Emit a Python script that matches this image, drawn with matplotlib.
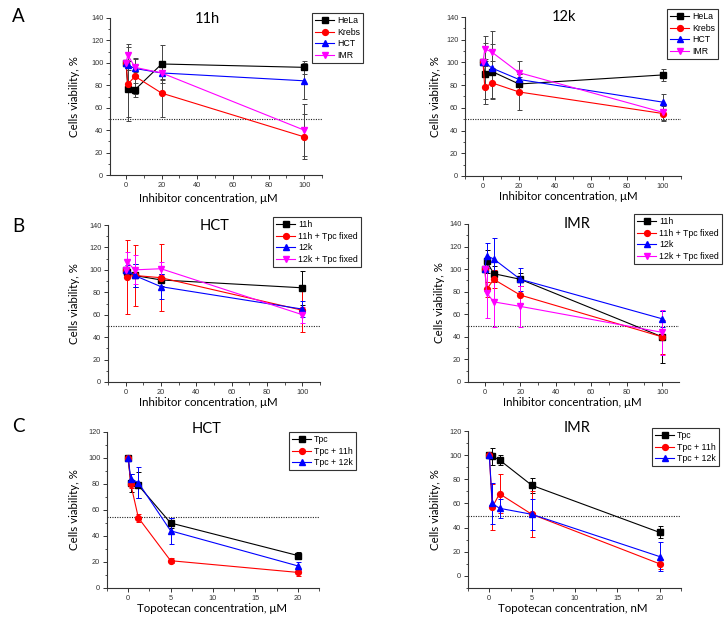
import matplotlib
matplotlib.use("Agg")
import matplotlib.pyplot as plt
from matplotlib.ticker import MultipleLocator

# ---- data ----
conc_inh = [0, 1, 5, 20, 100]
conc_tpc_hct = [0, 0.3, 1.2, 5, 20]
conc_tpc_imr = [0, 0.35, 1.2, 5, 20]

# A, 11h
a1_hela = [100, 77, 76, 99, 96]
a1_hela_err = [0, 25, 6, 17, 6]
a1_krebs = [100, 81, 88, 73, 34]
a1_krebs_err = [0, 33, 16, 21, 20]
a1_hct = [100, 98, 95, 91, 84]
a1_hct_err = [0, 4, 3, 5, 16]
a1_imr = [100, 107, 96, 91, 40]
a1_imr_err = [0, 10, 7, 6, 23]

# A, 12k
a2_hela = [100, 90, 92, 81, 89]
a2_hela_err = [0, 27, 24, 6, 5]
a2_krebs = [100, 78, 82, 74, 55]
a2_krebs_err = [0, 10, 13, 16, 7]
a2_hct = [100, 100, 95, 85, 65]
a2_hct_err = [0, 3, 6, 5, 7]
a2_imr = [100, 112, 109, 91, 56]
a2_imr_err = [0, 11, 19, 10, 7]

# B, HCT
b1_11h = [100, 98, 95, 91, 84]
b1_11h_err = [0, 3, 10, 5, 15]
b1_11h_tpc = [100, 94, 95, 93, 64]
b1_11h_tpc_err = [0, 33, 27, 30, 19]
b1_12k = [100, 100, 95, 85, 65]
b1_12k_err = [0, 4, 10, 11, 7]
b1_12k_tpc = [100, 107, 100, 101, 60]
b1_12k_tpc_err = [0, 9, 13, 6, 7]

# B, IMR
b2_11h = [100, 107, 96, 91, 40]
b2_11h_err = [0, 10, 7, 6, 23]
b2_11h_tpc = [100, 82, 91, 77, 40]
b2_11h_tpc_err = [0, 7, 8, 8, 15]
b2_12k = [100, 112, 109, 91, 56]
b2_12k_err = [0, 11, 19, 10, 7]
b2_12k_tpc = [100, 79, 71, 67, 44]
b2_12k_tpc_err = [0, 22, 22, 18, 20]

# C, HCT
c1_tpc = [100, 81, 79, 50, 25]
c1_tpc_err = [0, 7, 10, 4, 3]
c1_tpc_11h = [100, 80, 54, 21, 12]
c1_tpc_11h_err = [0, 3, 3, 2, 3]
c1_tpc_12k = [100, 84, 81, 44, 17]
c1_tpc_12k_err = [0, 4, 12, 10, 3]

# C, IMR
c2_tpc = [100, 99, 96, 75, 36]
c2_tpc_err = [0, 7, 4, 6, 5]
c2_tpc_11h = [100, 57, 68, 51, 10]
c2_tpc_11h_err = [0, 19, 16, 19, 4]
c2_tpc_12k = [100, 60, 56, 51, 16]
c2_tpc_12k_err = [0, 17, 8, 13, 12]

W, H = 728, 618
fig = plt.figure(figsize=(W / 100, H / 100), dpi=100)

LBL_FONT = ["Lato", "DejaVu Sans"]
TICK_FONT = ["Liberation Sans", "DejaVu Sans"]


def add_ax(left, right, top, bottom):
    ax = fig.add_axes([left / W, 1 - bottom / H, (right - left) / W, (bottom - top) / H])
    ax._px = (left, right, top, bottom)
    return ax


def style(ax, xlim, ylim, xmaj, xmin, xlabel, xlab_xy, ylab_x, hline=50):
    ax.set_xlim(*xlim)
    ax.set_ylim(*ylim)
    ax.spines["top"].set_visible(False)
    ax.spines["right"].set_visible(False)
    for s in ("left", "bottom"):
        ax.spines[s].set_linewidth(0.8)
        ax.spines[s].set_color("#333333")
    ax.xaxis.set_major_locator(MultipleLocator(xmaj))
    ax.xaxis.set_minor_locator(MultipleLocator(xmin))
    ax.yaxis.set_major_locator(MultipleLocator(20))
    ax.yaxis.set_minor_locator(MultipleLocator(10))
    ax.tick_params(which="major", direction="out", length=3, width=0.7, colors="#333333",
                   labelsize=5.3, pad=1.8)
    ax.tick_params(which="minor", direction="out", length=1.8, width=0.6, colors="#333333")
    for t in ax.get_xticklabels() + ax.get_yticklabels():
        t.set_family(TICK_FONT)
    ax.set_xlabel(xlabel, fontsize=8.3, family=LBL_FONT)
    ax.set_ylabel("Cells viability, %", fontsize=8.3, family=LBL_FONT)
    # place labels at the pixel centres measured on the reference
    left, right, top, bottom = ax._px
    ax.xaxis.set_label_coords((xlab_xy[0] - left) / (right - left),
                              (bottom - xlab_xy[1]) / (bottom - top))
    ax.xaxis.label.set_va("center")
    ax.yaxis.set_label_coords((ylab_x - left) / (right - left), 0.5)
    ax.yaxis.label.set_va("center")
    ax.axhline(hline, ls=(0, (1, 1.2)), lw=0.8, color="#222222", zorder=1)


def series(ax, x, y, err, color, marker, label, ecolor=None):
    ax.errorbar(x, y, yerr=err, fmt="none", ecolor=ecolor or color, elinewidth=0.7,
                capsize=1.8, capthick=0.7, zorder=2)
    ax.plot(x, y, color=color, marker=marker, markersize=4.2, lw=0.8, label=label, zorder=3)


def legend(ax, x0, y0):
    leg = ax.legend(loc="upper left", bbox_to_anchor=(x0 / W, 1 - y0 / H),
                    bbox_transform=fig.transFigure, fancybox=False, framealpha=1,
                    edgecolor="#333333", prop={"family": TICK_FONT, "size": 6.3},
                    handlelength=2.2, handletextpad=0.3, labelspacing=0.3,
                    borderpad=0.35, borderaxespad=0)
    leg.get_frame().set_linewidth(0.8)


inh_label = "Inhibitor concentration, μM"
gray = "#444444"

# ---- A left: 11h ----
ax = add_ax(110, 322, 18, 175)
series(ax, conc_inh, a1_hela, a1_hela_err, "black", "s", "HeLa", gray)
series(ax, conc_inh, a1_krebs, a1_krebs_err, "red", "o", "Krebs", gray)
series(ax, conc_inh, a1_hct, a1_hct_err, "blue", "^", "HCT", gray)
series(ax, conc_inh, a1_imr, a1_imr_err, "magenta", "v", "IMR", gray)
style(ax, (-9, 110), (0, 140), 20, 10, inh_label, (208, 198), 75)
legend(ax, 312, 13)

# ---- A right: 12k ----
ax = add_ax(465, 681, 17, 176)
series(ax, conc_inh, a2_hela, a2_hela_err, "black", "s", "HeLa", gray)
series(ax, conc_inh, a2_krebs, a2_krebs_err, "red", "o", "Krebs", gray)
series(ax, conc_inh, a2_hct, a2_hct_err, "blue", "^", "HCT", gray)
series(ax, conc_inh, a2_imr, a2_imr_err, "magenta", "v", "IMR", gray)
style(ax, (-10, 110), (0, 140), 20, 10, inh_label, (568, 197), 436)
legend(ax, 667, 9)

# ---- B left: HCT ----
ax = add_ax(108, 320, 225, 382)
series(ax, conc_inh, b1_11h, b1_11h_err, "black", "s", "11h")
series(ax, conc_inh, b1_11h_tpc, b1_11h_tpc_err, "red", "o", "11h + Tpc fixed")
series(ax, conc_inh, b1_12k, b1_12k_err, "blue", "^", "12k")
series(ax, conc_inh, b1_12k_tpc, b1_12k_tpc_err, "magenta", "v", "12k + Tpc fixed")
style(ax, (-10, 110), (0, 140), 20, 10, inh_label, (208, 403), 75)
legend(ax, 273, 217)

# ---- B right: IMR ----
ax = add_ax(468, 679, 224, 382)
series(ax, conc_inh, b2_11h, b2_11h_err, "black", "s", "11h")
series(ax, conc_inh, b2_11h_tpc, b2_11h_tpc_err, "red", "o", "11h + Tpc fixed")
series(ax, conc_inh, b2_12k, b2_12k_err, "blue", "^", "12k")
series(ax, conc_inh, b2_12k_tpc, b2_12k_tpc_err, "magenta", "v", "12k + Tpc fixed")
style(ax, (-9.5, 109.5), (0, 140), 20, 10, inh_label, (572, 403), 439)
legend(ax, 634, 214)

# ---- C left: HCT ----
ax = add_ax(107, 319, 432, 588)
series(ax, conc_tpc_hct, c1_tpc, c1_tpc_err, "black", "s", "Tpc")
series(ax, conc_tpc_hct, c1_tpc_11h, c1_tpc_11h_err, "red", "o", "Tpc + 11h")
series(ax, conc_tpc_hct, c1_tpc_12k, c1_tpc_12k_err, "blue", "^", "Tpc + 12k")
style(ax, (-2.5, 22.5), (0, 120), 5, 2.5, "Topotecan concentration, μM", (212, 608), 74,
      hline=54.5)
legend(ax, 289, 432)

# ---- C right: IMR ----
ax = add_ax(468, 681, 431, 588)
series(ax, conc_tpc_imr, c2_tpc, c2_tpc_err, "black", "s", "Tpc")
series(ax, conc_tpc_imr, c2_tpc_11h, c2_tpc_11h_err, "red", "o", "Tpc + 11h")
series(ax, conc_tpc_imr, c2_tpc_12k, c2_tpc_12k_err, "blue", "^", "Tpc + 12k")
style(ax, (-2.5, 22.5), (-10, 120), 5, 2.5, "Topotecan concentration, nM", (573, 609), 435)
legend(ax, 652, 428)

# titles and panel letters
titles = [("11h", 207, 19), ("12k", 564, 17), ("HCT", 215, 226),
          ("IMR", 577, 224), ("HCT", 207, 429), ("IMR", 577, 428)]
for txt, x, y in titles:
    fig.text(x / W, 1 - y / H, txt, ha="center", va="center", fontsize=10.5, family=LBL_FONT)
for txt, x, y in [("A", 18, 17), ("B", 18, 227), ("C", 18, 427)]:
    fig.text(x / W, 1 - y / H, txt, ha="center", va="center", fontsize=13.5, family=LBL_FONT)

fig.savefig("out.png", dpi=100)
